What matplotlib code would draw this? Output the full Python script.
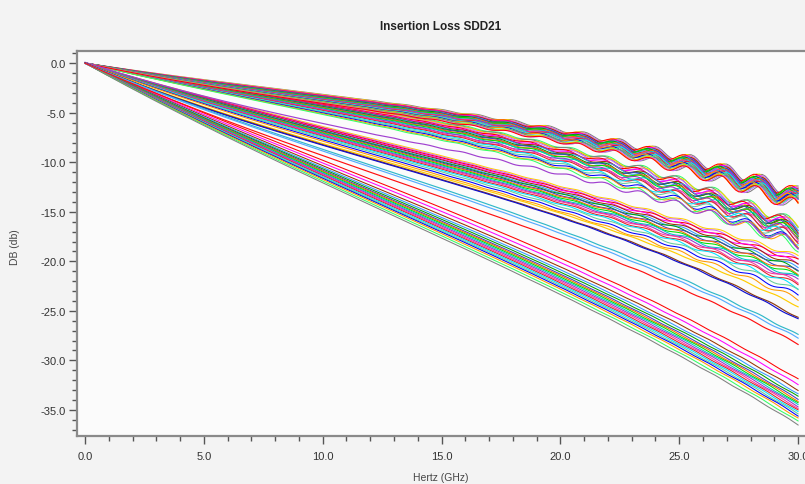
import numpy as np
import matplotlib
matplotlib.use("Agg")
import matplotlib.pyplot as plt
from matplotlib.ticker import MultipleLocator, FormatStrFormatter

# ---------------- data ----------------
# insertion loss (dB) of each trace, read at these frequencies (GHz); 0 dB at 0 GHz
FREQ_READ = [5, 10, 15, 20, 25, 30]

# top bundle (least loss, strong ripple)
GROUP_A = [
    [-1.60, -3.10, -4.85, -6.60, -9.40, -13.10],
    [-1.63, -3.14, -4.90, -6.66, -9.46, -13.16],
    [-1.66, -3.19, -4.96, -6.72, -9.52, -13.22],
    [-1.68, -3.22, -5.00, -6.76, -9.56, -13.28],
    [-1.70, -3.26, -5.04, -6.81, -9.61, -13.33],
    [-1.73, -3.30, -5.09, -6.87, -9.66, -13.40],
    [-1.75, -3.34, -5.13, -6.93, -9.71, -13.46],
    [-1.78, -3.38, -5.18, -6.98, -9.76, -13.52],
    [-1.80, -3.42, -5.22, -7.05, -9.81, -13.57],
    [-1.83, -3.46, -5.28, -7.10, -9.86, -13.63],
    [-1.85, -3.50, -5.32, -7.15, -9.91, -13.70],
    [-1.88, -3.54, -5.38, -7.22, -9.96, -13.76],
    [-1.90, -3.58, -5.42, -7.28, -10.01, -13.82],
    [-1.93, -3.62, -5.47, -7.33, -10.06, -13.88],
    [-1.95, -3.66, -5.52, -7.40, -10.12, -13.95],
    [-1.98, -3.70, -5.57, -7.45, -10.18, -14.00],
    [-2.00, -3.74, -5.62, -7.52, -10.24, -14.06],
    [-2.03, -3.78, -5.67, -7.58, -10.30, -14.12],
    [-2.06, -3.82, -5.72, -7.64, -10.36, -14.18],
    [-2.09, -3.86, -5.77, -7.70, -10.42, -14.25],
    [-2.12, -3.90, -5.82, -7.76, -10.48, -14.30],
    [-2.15, -3.94, -5.86, -7.82, -10.54, -14.36],
    [-2.18, -3.97, -5.89, -7.87, -10.58, -14.41],
    [-2.20, -4.00, -5.92, -7.92, -10.62, -14.46],
]
PHASE_A = [0, 1, 0, 2, 1, 0, 1, 2, 0, 1, 3, 1, 0, 2, 1, 0, 1, 2, 3, 1, 0, 2, 1, 2]

# second bundle (ripple)
GROUP_B = [
    [-2.00, -4.00, -6.00, -8.30, -11.80, -16.30],
    [-2.03, -4.06, -6.08, -8.40, -11.90, -16.42],
    [-2.05, -4.10, -6.15, -8.48, -11.98, -16.50],
    [-2.08, -4.16, -6.24, -8.58, -12.08, -16.58],
    [-2.10, -4.20, -6.30, -8.66, -12.17, -16.66],
    [-2.13, -4.26, -6.39, -8.77, -12.28, -16.75],
    [-2.15, -4.31, -6.46, -8.86, -12.38, -16.84],
    [-2.18, -4.36, -6.54, -8.96, -12.48, -16.92],
    [-2.20, -4.40, -6.60, -9.04, -12.56, -17.00],
    [-2.23, -4.46, -6.68, -9.14, -12.66, -17.08],
    [-2.25, -4.50, -6.75, -9.22, -12.75, -17.16],
    [-2.28, -4.56, -6.84, -9.33, -12.85, -17.26],
    [-2.31, -4.62, -6.93, -9.44, -12.96, -17.36],
    [-2.34, -4.68, -7.02, -9.56, -13.08, -17.48],
    [-2.37, -4.74, -7.11, -9.68, -13.20, -17.60],
    [-2.40, -4.80, -7.20, -9.80, -13.33, -17.72],
    [-2.44, -4.88, -7.32, -9.96, -13.50, -17.88],
    [-2.48, -4.96, -7.44, -10.12, -13.67, -18.04],
    [-2.52, -5.04, -7.56, -10.28, -13.84, -18.20],
    [-2.56, -5.12, -7.68, -10.44, -14.01, -18.36],
    [-2.60, -5.20, -7.80, -10.60, -14.20, -18.50],
]
PHASE_B = [4, 5, 3, 4, 6, 5, 4, 3, 5, 6, 4, 5, 3, 6, 4, 5, 7, 6, 5, 4, 6]

# third bundle (light ripple)
GROUP_C = [
    [-3.30, -6.40, -9.40, -12.30, -15.80, -19.50],
    [-3.34, -6.48, -9.51, -12.42, -15.97, -19.72],
    [-3.37, -6.56, -9.61, -12.54, -16.14, -19.93],
    [-3.41, -6.64, -9.72, -12.66, -16.31, -20.15],
    [-3.44, -6.72, -9.82, -12.78, -16.48, -20.36],
    [-3.48, -6.82, -9.95, -12.92, -16.68, -20.62],
    [-3.51, -6.88, -10.03, -13.02, -16.82, -20.79],
    [-3.55, -6.96, -10.14, -13.14, -16.99, -21.01],
    [-3.58, -7.04, -10.24, -13.26, -17.16, -21.22],
    [-3.62, -7.12, -10.35, -13.38, -17.33, -21.44],
    [-3.65, -7.20, -10.45, -13.50, -17.50, -21.65],
    [-3.69, -7.28, -10.56, -13.62, -17.67, -21.87],
    [-3.72, -7.36, -10.66, -13.74, -17.84, -22.08],
    [-3.76, -7.46, -10.79, -13.88, -18.04, -22.34],
    [-3.80, -7.55, -10.91, -14.03, -18.25, -22.60],
    [-3.86, -7.68, -11.08, -14.22, -18.52, -22.94],
    [-3.93, -7.84, -11.29, -14.46, -18.86, -23.37],
    [-4.00, -8.00, -11.50, -14.70, -19.20, -23.80],
]
PHASE_C = [2, 3, 1, 4, 2, 3, 5, 2, 4, 3, 1, 2, 4, 3, 5, 2, 3, 4]

# isolated single traces
SINGLE_TRACES = [
    [-3.00, -6.30, -8.70, -11.00, -14.30, -18.30],
    [-4.20, -8.30, -11.60, -14.90, -19.50, -24.50],
    [-4.30, -8.40, -11.80, -15.20, -20.20, -25.60],
    [-4.35, -8.45, -11.85, -15.30, -20.30, -25.80],
    [-4.60, -8.70, -12.70, -16.70, -21.80, -27.40],
    [-4.70, -8.90, -12.90, -17.00, -22.20, -27.70],
    [-4.90, -9.40, -13.50, -17.70, -22.80, -28.30],
]
SINGLE_COLORS = ["#a040d0", "#ffcc00", "#8b3a0f", "#1010d0", "#30b8c8", "#55aaff", "#ff1010"]
SINGLE_RIPPLE = [0.8, 0.1, 0.1, 0.1, 0.1, 0.1, 0.1]

# bottom bundle (highest loss)
GROUP_D = [
    [-4.90, -9.90, -14.60, -19.60, -25.40, -31.90],
    [-5.06, -10.18, -14.96, -20.04, -25.90, -32.45],
    [-5.21, -10.45, -15.32, -20.49, -26.41, -33.00],
    [-5.32, -10.64, -15.56, -20.78, -26.74, -33.37],
    [-5.40, -10.78, -15.75, -21.01, -27.00, -33.65],
    [-5.47, -10.91, -15.92, -21.23, -27.25, -33.92],
    [-5.52, -11.00, -16.04, -21.38, -27.42, -34.11],
    [-5.58, -11.10, -16.16, -21.52, -27.58, -34.29],
    [-5.63, -11.19, -16.28, -21.67, -27.75, -34.48],
    [-5.68, -11.28, -16.40, -21.82, -27.92, -34.66],
    [-5.73, -11.37, -16.52, -21.97, -28.09, -34.84],
    [-5.78, -11.46, -16.64, -22.12, -28.26, -35.03],
    [-5.84, -11.56, -16.76, -22.26, -28.42, -35.21],
    [-5.89, -11.65, -16.88, -22.41, -28.59, -35.40],
    [-5.94, -11.74, -17.00, -22.56, -28.76, -35.58],
    [-6.01, -11.86, -17.15, -22.75, -28.97, -35.81],
    [-6.10, -12.03, -17.38, -23.02, -29.28, -36.15],
    [-6.20, -12.20, -17.60, -23.30, -29.60, -36.50],
]
PHASE_D = [0, 3, 6, 9, 1, 4, 7, 10, 2, 5, 8, 11, 0, 3, 6, 9, 1, 4]

# standing-wave ripple read from the top bundle: one period (1.5 GHz) sampled every 0.125 GHz
RIPPLE_SHAPE = [1.0, 0.87, 0.5, 0.0, -0.5, -0.87, -1.0, -0.87, -0.5, 0.0, 0.5, 0.87]
# half peak-to-peak ripple (dB) of the top bundle vs frequency
RIPPLE_ENV_F = [0, 10, 15, 20, 25, 30]
RIPPLE_ENV_DB = [0.0, 0.0, 0.05, 0.18, 0.45, 0.70]
RIPPLE_SCALE = {"A": 1.0, "B": 0.8, "C": 0.3, "D": 0.06}

PALETTE = ["#ff0000", "#00dd00", "#0000ff", "#ff00ff", "#00c8c8", "#ff9900",
           "#993300", "#9933cc", "#33ff66", "#3399ff", "#ff3399", "#808080",
           "#00a000", "#dd2222", "#ffcc00", "#4040c0", "#00e5ff", "#cc66ff",
           "#ff6600", "#66cc99"]

X_TICKS = [0, 5, 10, 15, 20, 25, 30]
Y_TICKS = [0, -5, -10, -15, -20, -25, -30, -35]

# ---------------- drawing ----------------
plt.rcParams["font.family"] = ["Liberation Sans", "DejaVu Sans"]

W, H = 805, 485
fig = plt.figure(figsize=(W / 100, H / 100), dpi=100, facecolor="#f3f3f3")
ax_l, ax_r, ax_t, ax_b = 77, 822, 52, 437
ax = fig.add_axes([ax_l / W, (H - ax_b) / H, (ax_r - ax_l) / W, (ax_b - ax_t) / H])
ax.set_facecolor("#fbfbfb")

f_fine = np.arange(0, 30.0001, 0.125)
read_f = np.array([0.0] + FREQ_READ)
env = np.interp(f_fine, RIPPLE_ENV_F, RIPPLE_ENV_DB)
shape = np.array(RIPPLE_SHAPE)
idx = np.arange(len(f_fine))


def trace(values, phase, scale):
    v = np.array([0.0] + list(values))
    coef = np.polyfit(read_f, v, 3)
    base = np.polyval(coef, f_fine)
    rip = shape[(idx + phase) % len(shape)] * env * scale
    return base + rip


ci = 0
for grp, phases, key in [(GROUP_D, PHASE_D, "D"), (GROUP_C, PHASE_C, "C"),
                         (GROUP_B, PHASE_B, "B"), (GROUP_A, PHASE_A, "A")]:
    for vals, ph in zip(grp, phases):
        ax.plot(f_fine, trace(vals, ph, RIPPLE_SCALE[key]),
                color=PALETTE[ci % len(PALETTE)], lw=0.75)
        ci += 3
for k, (vals, col, rs) in enumerate(zip(SINGLE_TRACES, SINGLE_COLORS, SINGLE_RIPPLE)):
    ax.plot(f_fine, trace(vals, k * 2 + 5, rs), color=col, lw=0.85)

ax.set_xlim(-(85 - ax_l) / 23.77, -(85 - ax_l) / 23.77 + (ax_r - ax_l) / 23.77)
ax.set_ylim(-(ax_b - 64.3) / 9.9, (64.3 - ax_t) / 9.9)

ax.set_xticks(X_TICKS)
ax.set_yticks(Y_TICKS)
ax.xaxis.set_minor_locator(MultipleLocator(1))
ax.yaxis.set_minor_locator(MultipleLocator(1))
ax.xaxis.set_major_formatter(FormatStrFormatter("%.1f"))
ax.yaxis.set_major_formatter(FormatStrFormatter("%.1f"))
ax.tick_params(which="major", direction="out", length=6, width=1, color="#555555",
               labelsize=8, labelcolor="#333333")
ax.tick_params(which="minor", direction="out", length=3.5, width=1, color="#555555")
ax.tick_params(axis="x", which="major", pad=5)
ax.tick_params(axis="y", which="major", pad=2)

for s in ["left", "top", "bottom"]:
    ax.spines[s].set_color("#8a8a8a")
    ax.spines[s].set_linewidth(1.6)
ax.spines["right"].set_visible(False)

fig.text(441 / W, 1 - 27 / H, "Insertion Loss SDD21", ha="center", va="center",
         fontsize=8.5, fontweight="bold", color="#222222")
fig.text(441 / W, 1 - 478 / H, "Hertz (GHz)", ha="center", va="center",
         fontsize=7.5, color="#444444")
fig.text(15 / W, 1 - 247 / H, "DB (db)", ha="center", va="center", rotation=90,
         fontsize=7.5, color="#444444")

fig.savefig("out.png", dpi=100, facecolor=fig.get_facecolor())
